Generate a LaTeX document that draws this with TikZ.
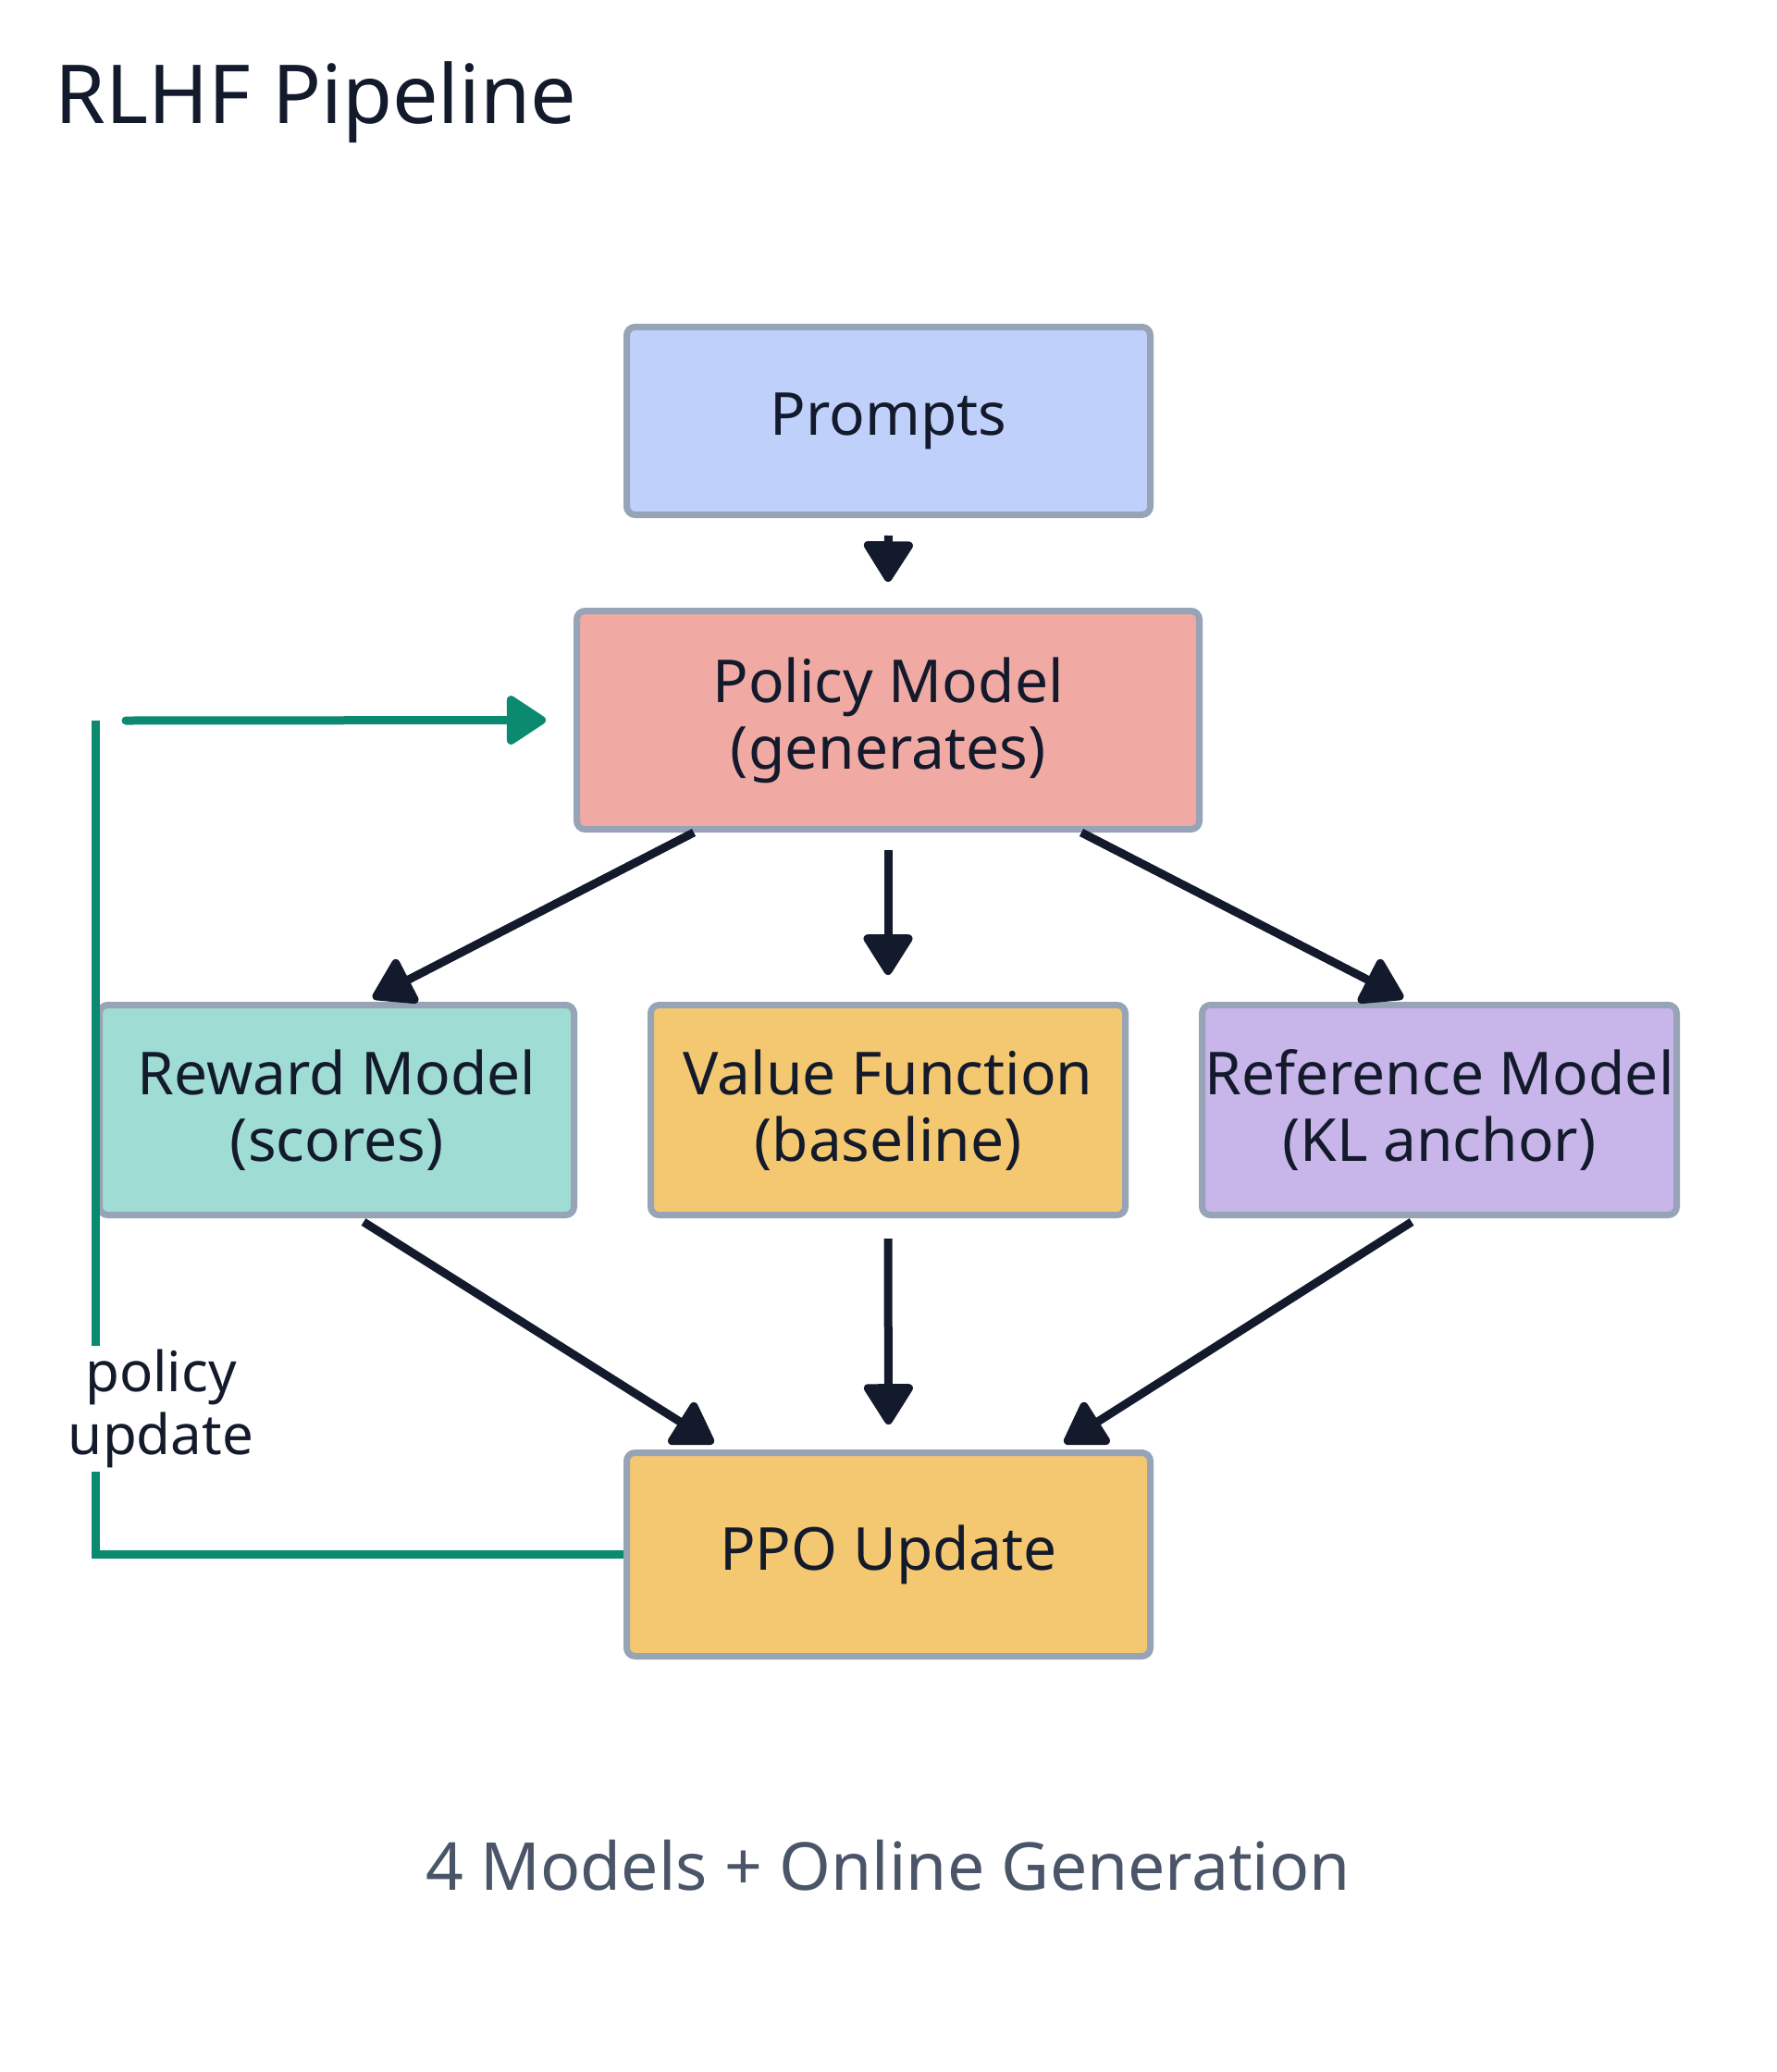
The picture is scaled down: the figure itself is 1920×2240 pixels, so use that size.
\documentclass[tikz,border=0pt]{standalone}
\usepackage{fontspec}
\setmainfont{Noto Sans}
\usetikzlibrary{calc,arrows.meta}
\definecolor{ink}{HTML}{131A2B}
\definecolor{boxline}{HTML}{97A3B6}
\definecolor{fprompt}{HTML}{BFD0FB}
\definecolor{fpolicy}{HTML}{F0AAA3}
\definecolor{freward}{HTML}{9FDCD4}
\definecolor{fvalue}{HTML}{F4C870}
\definecolor{fref}{HTML}{C8B5EA}
\definecolor{loopgreen}{HTML}{0B8A70}
\definecolor{capgray}{HTML}{4A5568}
\begin{document}
\begin{tikzpicture}[x=1pt,y=-1pt,
  box/.style={draw=boxline, line width=7pt, rounded corners=9pt, align=center,
    text=ink, inner sep=0pt, font=\fontsize{64}{72}\selectfont},
  flow/.style={draw=ink, line width=9pt, -{Triangle[length=48pt,width=58pt,round]}},
  loop/.style={draw=loopgreen, line width=9pt},
]
\path[use as bounding box, fill=white] (0,0) rectangle (1920,2240);

\node[anchor=base west, text=ink, font=\fontsize{88}{100}\selectfont] (title) at (56,133) {RLHF Pipeline};

\node[box, fill=fprompt, minimum width=566pt, minimum height=203pt] (prompts) at (960.5,455) {Prompts};
\node[box, fill=fpolicy, minimum width=673pt, minimum height=236pt] (policy) at (960,778.5) {Policy Model\\(generates)};
\node[box, fill=freward, minimum width=513pt, minimum height=227pt] (reward) at (364,1200) {Reward Model\\(scores)};
\node[box, fill=fvalue, minimum width=513pt, minimum height=227pt] (value) at (960,1200) {Value Function\\(baseline)};
\node[box, fill=fref, minimum width=513pt, minimum height=227pt] (refm) at (1556,1200) {Reference Model\\(KL anchor)};
\node[box, fill=fvalue, minimum width=566pt, minimum height=220pt] (ppo) at (960.5,1680.5) {PPO Update};

\node[text=capgray, font=\fontsize{71.5}{82}\selectfont] (caption) at (960,2017) {4 Models + Online Generation};

% main flow
\draw[flow] ($(prompts.south)+(0,19)$) -- ($(policy.north)+(0,-28)$);
\draw[flow] ($(policy.south)+(-210,0)$) -- ($(reward.north)+(39,-4)$);
\draw[flow] ($(policy.south)+(0,19)$) -- ($(value.north)+(0,-29)$);
\draw[flow] ($(policy.south)+(209,0)$) -- ($(refm.north)+(-39,-4)$);
\draw[flow] ($(reward.south)+(29,4)$) -- ($(ppo.north)+(-189,-7)$);
\draw[flow] ($(value.south)+(0,22)$) -- ($(ppo.north)+(0,-27)$);
\draw[flow] ($(refm.south)+(-30,4)$) -- ($(ppo.north)+(190,-7)$);

% feedback loop
\coordinate (looptop) at (103,779);
\coordinate (loopstart) at (136,779);
\draw[loop] (ppo.west) -| (looptop);
\draw[loop, line cap=round, -{Triangle[length=46pt,width=58pt,round]}] (loopstart) -- ($(policy.west)+(-30,0)$);
\node[fill=white, text=ink, align=center, inner sep=4pt, font=\fontsize{60}{68}\selectfont] (looplabel) at (174,1523) {policy\\update};
\end{tikzpicture}
\end{document}
